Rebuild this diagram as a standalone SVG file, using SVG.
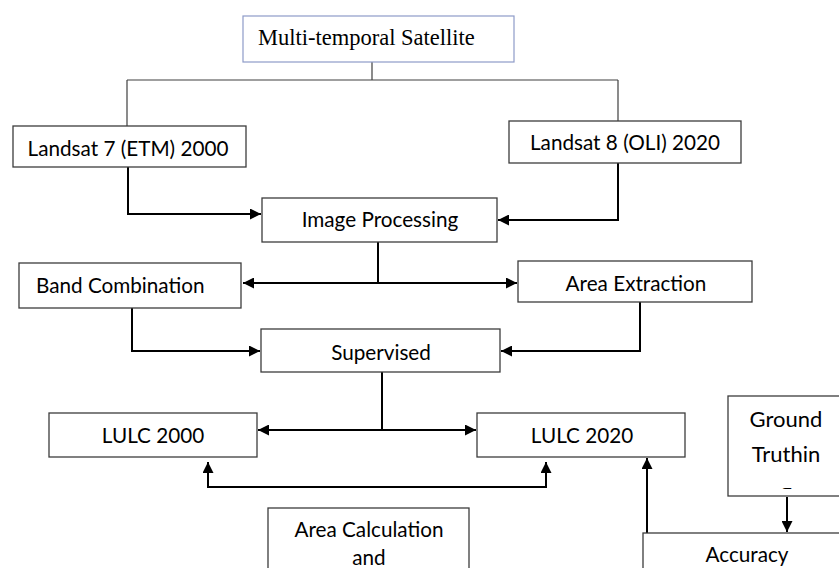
<svg xmlns="http://www.w3.org/2000/svg" width="839" height="568" viewBox="0 0 839 568">
<defs>
<marker id="ah" viewBox="0 0 10 10" refX="10" refY="5" markerWidth="5.5" markerHeight="5.5" orient="auto-start-reverse" markerUnits="strokeWidth">
<path d="M0,0 L10,5 L0,10 z" fill="#000"/>
</marker>
<clipPath id="gclip"><rect x="728" y="396" width="111" height="93"/></clipPath>
</defs>
<style>
.box{fill:#fff;stroke:#3c3c3c;stroke-width:1.3}
.t{font-family:Lato,"Open Sans","Liberation Sans",sans-serif;font-size:20.7px;fill:#000}
.c{text-anchor:middle}
.thin{fill:none;stroke:#404040;stroke-width:1.2}
.arr{fill:none;stroke:#000;stroke-width:2;marker-end:url(#ah)}
.bi{fill:none;stroke:#000;stroke-width:2;marker-start:url(#ah);marker-end:url(#ah)}
.plain{fill:none;stroke:#000;stroke-width:2}
</style>
<rect width="839" height="568" fill="#fff"/>
<g id="connectors">
<path class="thin" d="M372,62 V80 M127,80 H618 M127,80 V126 M618,80 V121"/>
<path class="arr" d="M128,167 V214 H261"/>
<path class="arr" d="M618,163 V220 H498"/>
<path class="plain" d="M378,242 V283"/>
<path class="bi" d="M243,283 H517"/>
<path class="arr" d="M132,308 V351 H260"/>
<path class="arr" d="M640,302 V351 H501"/>
<path class="plain" d="M382,372 V430"/>
<path class="bi" d="M258,430 H476"/>
<path class="bi" d="M208,462 V487 H546 V462"/>
<path class="arr" d="M787,497 V532"/>
<path class="arr" d="M647,533 V458"/>
</g>
<g id="n-multi">
<rect x="243" y="16" width="271" height="46" fill="#fff" stroke="#8e9bc8" stroke-width="1.2"/>
<text x="258" y="45" font-family="'Liberation Serif','Times New Roman',serif" font-size="22.5" fill="#000">Multi-temporal Satellite</text>
</g>
<g id="n-landsat7">
<rect class="box" x="13" y="126" width="233" height="41"/>
<text class="t c" x="128" y="156">Landsat 7 (ETM) 2000</text>
</g>
<g id="n-landsat8">
<rect class="box" x="509" y="121" width="232" height="42"/>
<text class="t c" x="625" y="150">Landsat 8 (OLI) 2020</text>
</g>
<g id="n-imgproc">
<rect class="box" x="262" y="198" width="235" height="44"/>
<text class="t c" x="380" y="227">Image Processing</text>
</g>
<g id="n-band">
<rect class="box" x="19" y="263" width="222" height="45"/>
<text class="t" x="36" y="293">Band Combination</text>
</g>
<g id="n-area-ext">
<rect class="box" x="518" y="261" width="234" height="41"/>
<text class="t c" x="636" y="291">Area Extraction</text>
</g>
<g id="n-supervised">
<rect class="box" x="261" y="329" width="239" height="43"/>
<text class="t c" x="381" y="360">Supervised</text>
</g>
<g id="n-lulc2000">
<rect class="box" x="49" y="413" width="208" height="44"/>
<text class="t c" x="153" y="443">LULC 2000</text>
</g>
<g id="n-lulc2020">
<rect class="box" x="477" y="413" width="208" height="44"/>
<text class="t c" x="582" y="443">LULC 2020</text>
</g>
<g id="n-areacalc">
<rect class="box" x="268" y="508" width="201" height="70"/>
<text class="t c" x="369" y="537">Area Calculation</text>
<text class="t c" x="369" y="565">and</text>
</g>
<g id="n-ground">
<rect class="box" x="728" y="396" width="120" height="100"/>
<text class="t c" x="786" y="427" style="font-size:22px">Ground</text>
<text class="t c" x="786" y="462" style="font-size:22px">Truthin</text>
<text class="t c" x="786" y="499" style="font-size:22px" clip-path="url(#gclip)">g</text>
</g>
<g id="n-accuracy">
<rect class="box" x="643" y="533" width="210" height="50"/>
<text class="t c" x="747" y="562">Accuracy</text>
</g>
</svg>
